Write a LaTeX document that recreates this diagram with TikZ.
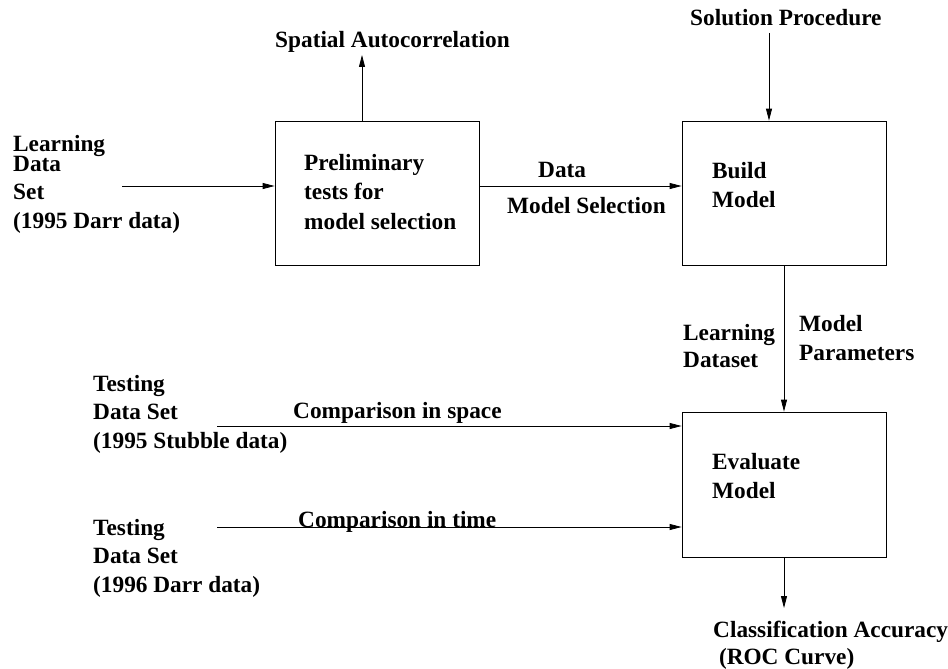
\documentclass[tikz,border=0pt]{standalone}
\usepackage{fontspec}
\setmainfont{Liberation Serif}
\usetikzlibrary{arrows.meta}

\tikzset{
  lbl/.style={font=\bfseries\fontsize{23.3}{28.5}\selectfont, align=left, anchor=base west, inner sep=0pt},
  box/.style={draw, line width=0.8pt, minimum width=204pt, minimum height=144pt, inner sep=0pt},
  arr/.style={line width=0.8pt, -{Triangle[length=12pt,width=6pt]}}
}

\begin{document}
\begin{tikzpicture}[x=1pt,y=-1pt]
  \useasboundingbox (0,0) rectangle (948,669);

  % boxes
  \node[box] (prelim) at (377,193) {};
  \node[box] (build) at (784,193) {};
  \node[box, minimum height=145pt] (evaluate) at (784,484.5) {};

  % multi-line labels sit on the baseline of their last line
  \node[lbl] (prelimtext) at (304,229) {Preliminary\\[1pt]tests for\\[1pt]model selection};
  \node[lbl] (buildtext) at (712,207) {Build\\Model};
  \node[lbl] (evaltext) at (712,498) {Evaluate\\Model};

  % inputs and outputs
  \node[lbl] (learnset) at (13,228) {Learning\\[-8.5pt]Data\\Set\\(1995 Darr data)};
  \node[lbl] (spatial) at (275,48) {Spatial Autocorrelation};
  \node[lbl] (solution) at (690,26) {Solution Procedure};
  \node[lbl] (testspace) at (93,448) {Testing\\Data Set\\(1995 Stubble data)};
  \node[lbl] (testtime) at (93,592) {Testing\\Data Set\\(1996 Darr data)};
  \node[lbl] (accuracy) at (713,664) {Classification Accuracy\\[-1.5pt]\ (ROC Curve)};

  % connector labels
  \node[lbl] (datalbl) at (538,177) {Data};
  \node[lbl] (sellbl) at (507,213) {Model Selection};
  \node[lbl] (learnlbl) at (683,367) {Learning\\[-1.5pt]Dataset};
  \node[lbl] (paramlbl) at (799,360) {Model\\Parameters};
  \node[lbl] (spacelbl) at (293,418) {Comparison in space};
  \node[lbl] (timelbl) at (298,527) {Comparison in time};

  % free ends
  \coordinate (learnstart) at (122,186);
  \coordinate (spacestart) at (217,426);
  \coordinate (timestart) at (217,527);
  \coordinate (spatialend) at (362,55);
  \coordinate (solutionstart) at (769,33);
  \coordinate (accuracyend) at (784,608);

  \draw[arr] (learnstart) -- (learnstart -| prelim.west);
  \draw[arr] (spatialend |- prelim.north) -- (spatialend);
  \draw[arr] ([yshift=7pt]prelim.east) -- ([yshift=7pt]build.west);
  \draw[arr] (solutionstart) -- (solutionstart |- build.north);
  \draw[arr] (build.south) -- (evaluate.north);
  \draw[arr] (spacestart) -- (spacestart -| evaluate.west);
  \draw[arr] (timestart) -- (timestart -| evaluate.west);
  \draw[arr] (evaluate.south) -- (accuracyend);
\end{tikzpicture}
\end{document}
